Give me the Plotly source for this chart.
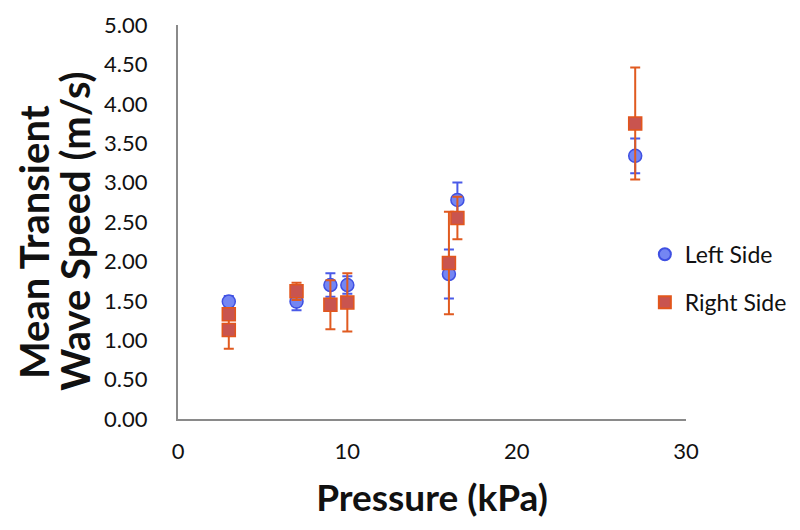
import plotly.graph_objects as go

# Left side (blue circles)
left_x = [3, 7, 9, 10, 16, 16.5, 27]
left_y = [1.49, 1.49, 1.70, 1.70, 1.84, 2.78, 3.34]
left_err = [0.07, 0.11, 0.15, 0.11, 0.31, 0.22, 0.22]

# Right side (red squares)
right_x = [3, 3, 7, 9, 10, 16, 16.5, 27]
right_y = [1.33, 1.13, 1.62, 1.45, 1.48, 1.98, 2.55, 3.75]
right_err = [0.04, 0.24, 0.11, 0.31, 0.37, 0.65, 0.27, 0.71]

x_ticks = [0, 10, 20, 30]
y_ticks = [0, 0.5, 1, 1.5, 2, 2.5, 3, 3.5, 4, 4.5, 5]

y_title_lines = ["Mean Transient", "Wave Speed (m/s)"]
x_title = "Pressure (kPa)"

font_family = "Lato, 'Open Sans', sans-serif"

fig = go.Figure()
fig.add_trace(go.Scatter(
    x=left_x, y=left_y, mode="markers", name="Left Side",
    legendgroup="a",
    marker=dict(symbol="circle", size=13, color="#7486f3",
                line=dict(color="#3f50e2", width=1.5)),
    error_y=dict(type="data", array=left_err, visible=True,
                 color="#4a5ae8", thickness=2, width=5),
))
fig.add_trace(go.Scatter(
    x=right_x, y=right_y, mode="markers", name="Right Side",
    legendgroup="b",
    marker=dict(symbol="square", size=13, color="#c9544f",
                line=dict(color="#e2561c", width=1.5)),
    error_y=dict(type="data", array=right_err, visible=True,
                 color="#e05a20", thickness=2, width=5),
))

# two-line y title drawn as rotated annotations (tighter line spacing)
for txt, xs, yp in [(y_title_lines[0], -144, 0.449), (y_title_lines[1], -103, 0.475)]:
    fig.add_annotation(text=f"<b>{txt}</b>", xref="paper", yref="paper",
                       x=0, y=yp, xanchor="center", yanchor="middle",
                       xshift=xs, textangle=-90, showarrow=False,
                       font=dict(size=40, family=font_family, color="#111111"))

fig.update_layout(
    width=800, height=530,
    paper_bgcolor="white", plot_bgcolor="white",
    margin=dict(l=170, r=122, t=17, b=119, autoexpand=False),
    font=dict(family=font_family, color="#111111"),
    showlegend=True,
    legend=dict(x=0.919, xanchor="left", y=0.357, yanchor="middle",
                font=dict(size=23, family=font_family, color="#111111"),
                traceorder="grouped", tracegroupgap=15,
                bgcolor="rgba(0,0,0,0)", itemsizing="constant"),
    xaxis=dict(range=[0, 30], tickvals=x_ticks, ticktext=[str(t) for t in x_ticks],
               showgrid=False, zeroline=False, showline=True,
               linecolor="#8a8a8a", linewidth=2, ticks="",
               tickfont=dict(size=22, family=font_family, color="#111111"),
               ticklabelstandoff=12, automargin=False,
               title=dict(text=f"<b>{x_title}</b>",
                          font=dict(size=37, family=font_family, color="#111111"),
                          standoff=22)),
    yaxis=dict(range=[0, 5], tickvals=y_ticks,
               ticktext=[f"{t:.2f}" for t in y_ticks],
               showgrid=False, zeroline=False, showline=True,
               linecolor="#8a8a8a", linewidth=2, ticks="",
               tickfont=dict(size=22, family=font_family, color="#111111"),
               ticklabelstandoff=24, automargin=False),
)

fig.write_html("out.html")
